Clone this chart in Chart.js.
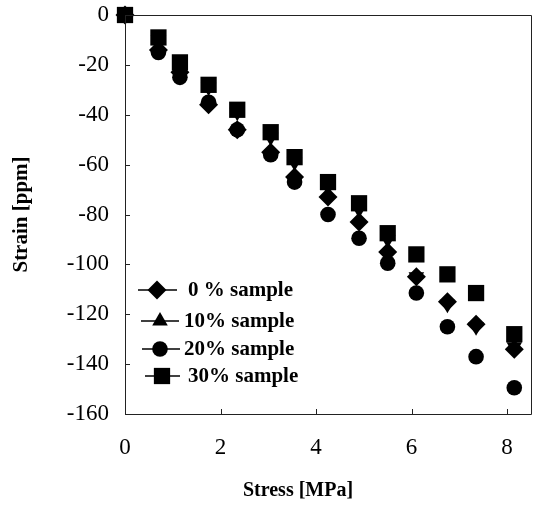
<!DOCTYPE html>
<html>
<head>
<meta charset="utf-8">
<script src="https://cdn.jsdelivr.net/npm/chart.js@4/dist/chart.umd.min.js"></script>
<style>
  html, body { margin: 0; padding: 0; background: #fff; }
  #wrap { width: 533px; height: 508px; }
</style>
</head>
<body>
<div id="wrap"><canvas id="c" width="533" height="508"></canvas></div>
<script>
// ---- data ----
const stress = [0, 0.7, 1.15, 1.75, 2.35, 3.05, 3.55, 4.25, 4.9, 5.5, 6.1, 6.75, 7.35, 8.15];
const strain0  = [0, -14, -23, -36, -46, -55, -65, -73, -83, -95, -105, -115, -124, -134];
const strain10 = [0, -10, -20, -29, -39, -49, -59, -69, -78, -90, -105, -116, -125, -133];
const strain20 = [0, -15, -25, -35, -46, -56, -67, -80, -89.5, -99.5, -111.5, -125, -137, -149.5];
const strain30 = [0, -9, -19, -28, -38, -47, -57, -67, -75.5, -87.5, -96, -104, -111.5, -128];
const seriesNames = ['0 % sample', '10% sample', '20% sample', '30% sample'];
const xTicks = [0, 2, 4, 6, 8];
const yTicks = [0, -20, -40, -60, -80, -100, -120, -140, -160];
const xTitle = 'Stress [MPa]';
const yTitle = 'Strain [ppm]';

const pts = (ys) => stress.map((x, i) => ({ x: x, y: ys[i] }));

const styles = [
  { pointStyle: 'rectRot', radius: 9.5, rotation: 0, legendRotation: 0 },
  { pointStyle: 'triangle', radius: 9, rotation: 180, legendRotation: 0 },
  { pointStyle: 'circle', radius: 7.8, rotation: 0, legendRotation: 0 },
  { pointStyle: 'rect', radius: 11.5, rotation: 0, legendRotation: 0 }
];
const allSeries = [strain0, strain10, strain20, strain30];
const drawOrder = [3, 2, 1, 0];

const datasets = allSeries.map((ys, i) => ({
  label: seriesNames[i],
  data: pts(ys),
  showLine: false,
  pointStyle: styles[i].pointStyle,
  pointRadius: styles[i].radius,
  pointRotation: styles[i].rotation,
  pointBackgroundColor: '#000',
  pointBorderColor: '#000',
  pointBorderWidth: 0,
  clip: false,
  order: drawOrder[i]
}));

const serif = "'Liberation Serif', 'Times New Roman', serif";

// frame, inward ticks and legend
const decor = {
  id: 'decor',
  afterDatasetsDraw(chart) {
    const ctx = chart.ctx;
    const a = chart.chartArea;
    const xs = chart.scales.x, ys = chart.scales.y;
    ctx.save();
    ctx.strokeStyle = '#222';
    ctx.lineWidth = 1;
    ctx.beginPath();
    ctx.rect(Math.round(a.left) + 0.5, Math.round(a.top) + 0.5, Math.round(a.right - a.left), Math.round(a.bottom - a.top));
    ctx.stroke();
    ctx.beginPath();
    xTicks.forEach(v => {
      const px = Math.round(xs.getPixelForValue(v)) + 0.5;
      ctx.moveTo(px, a.bottom);
      ctx.lineTo(px, a.bottom - 5);
    });
    yTicks.forEach(v => {
      const py = Math.round(ys.getPixelForValue(v)) + 0.5;
      ctx.moveTo(a.left, py);
      ctx.lineTo(a.left + 5, py);
    });
    ctx.stroke();

    // legend
    const rowsY = [290, 321, 349, 376];
    const lineX = [[138, 177], [141, 179], [142, 180], [145, 180]];
    const markX = [157, 160, 160, 162];
    const textX = [188, 184, 184, 188];
    ctx.fillStyle = '#000';
    ctx.strokeStyle = '#000';
    ctx.font = 'bold 21px ' + serif;
    ctx.textBaseline = 'middle';
    ctx.textAlign = 'left';
    for (let i = 0; i < 4; i++) {
      ctx.lineWidth = 1.5;
      ctx.beginPath();
      ctx.moveTo(lineX[i][0], rowsY[i]);
      ctx.lineTo(lineX[i][1], rowsY[i]);
      ctx.stroke();
      Chart.helpers.drawPoint(ctx, {
        pointStyle: styles[i].pointStyle,
        radius: styles[i].radius,
        rotation: styles[i].legendRotation,
        borderWidth: 0
      }, markX[i], rowsY[i]);
      ctx.fillText(seriesNames[i], textX[i], rowsY[i] + 1);
    }
    ctx.restore();
  }
};

new Chart(document.getElementById('c'), {
  type: 'scatter',
  data: { datasets: datasets },
  plugins: [decor],
  options: {
    responsive: false,
    animation: false,
    devicePixelRatio: 1,
    layout: { autoPadding: false, padding: { left: 0, right: 2, top: 15, bottom: 0 } },
    plugins: { legend: { display: false }, tooltip: { enabled: false } },
    scales: {
      x: {
        type: 'linear', min: 0, max: 8.5,
        afterBuildTicks: s => { s.ticks = xTicks.map(v => ({ value: v })); },
        afterFit: s => { s.height = 94; s.paddingLeft = 0; s.paddingRight = 0; },
        grid: { display: false, drawTicks: false },
        border: { display: false },
        ticks: { color: '#000', font: { family: serif, size: 23 }, padding: 20, maxRotation: 0 },
        title: { display: true, text: xTitle + '            ', color: '#000', font: { family: serif, size: 20, weight: 'bold' }, padding: { top: 5, bottom: 5 } }
      },
      y: {
        type: 'linear', min: -160, max: 0,
        afterBuildTicks: s => { s.ticks = yTicks.map(v => ({ value: v })); },
        afterFit: s => { s.width = 125; s.paddingTop = 0; s.paddingBottom = 0; },
        grid: { display: false, drawTicks: false },
        border: { display: false },
        ticks: { color: '#000', font: { family: serif, size: 23 }, padding: 16 },
        title: { display: true, text: yTitle, color: '#000', font: { family: serif, size: 21, weight: 'bold' }, padding: { top: 9, bottom: 9 } }
      }
    }
  }
});
</script>
</body>
</html>
